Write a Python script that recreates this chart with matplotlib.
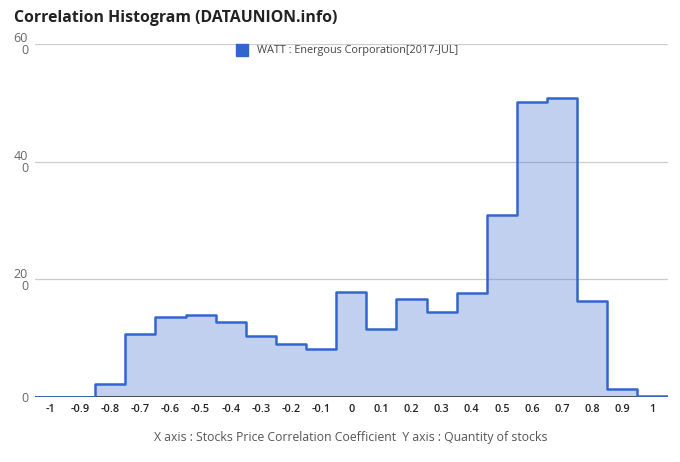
import numpy as np
import matplotlib
matplotlib.use("Agg")
import matplotlib.pyplot as plt

plt.rcParams['font.family'] = ['Open Sans', 'DejaVu Sans']

centers = [-1.0, -0.9, -0.8, -0.7, -0.6, -0.5, -0.4, -0.3, -0.2, -0.1, 0.0,
           0.1, 0.2, 0.3, 0.4, 0.5, 0.6, 0.7, 0.8, 0.9, 1.0]
counts = [0, 0, 2.26, 10.76, 13.6, 13.9, 12.7, 10.4, 9.06, 8.1, 17.8,
          11.5, 16.6, 14.4, 17.7, 30.9, 50.2, 50.9, 16.4, 1.36, 0.17]
xtick_labels = ['-1', '-0.9', '-0.8', '-0.7', '-0.6', '-0.5', '-0.4', '-0.3', '-0.2', '-0.1',
                '0', '0.1', '0.2', '0.3', '0.4', '0.5', '0.6', '0.7', '0.8', '0.9', '1']
ytick_values = [0, 20, 40, 60]
ytick_labels = ['0', '20\n0', '40\n0', '60\n0']
series_name = 'WATT : Energous Corporation[2017-JUL]'

blue = '#3366CC'

fig = plt.figure(figsize=(6.8, 4.62), dpi=100)
ax = fig.add_axes([35/680, 1-397/462, (667.5-35)/680, (397-44)/462])

c = np.array(centers)
half = (c[1] - c[0]) / 2
edges = np.append(c - half, c[-1] + half)

ax.stairs(counts, edges, fill=True, color=blue, alpha=0.3, linewidth=0, baseline=0)
ax.stairs(counts, edges, fill=False, color=blue, linewidth=1.8, baseline=None,
          joinstyle='round', zorder=3)

ax.set_xlim(edges[0], edges[-1])
ax.set_ylim(0, 60)

ax.set_yticks(ytick_values)
ax.set_yticklabels(ytick_labels, color='#666666', fontsize=9, linespacing=0.9)
ax.set_xticks(centers)
ax.set_xticklabels(xtick_labels, fontsize=7.8, color='#222222', fontweight='semibold')
ax.tick_params(axis='both', length=0)
ax.tick_params(axis='y', pad=5)
ax.tick_params(axis='x', pad=5)

for v in ytick_values[1:]:
    ax.axhline(v, color='#cccccc', linewidth=0.9, zorder=0)
ax.axhline(0, color='#333333', linewidth=1.2, zorder=2)

for s in ax.spines.values():
    s.set_visible(False)

fig.text(14/680, 1-18/462, 'Correlation Histogram (DATAUNION.info)', fontsize=11.4,
         fontweight='bold', color='#222222', va='center', ha='left')

# legend
fig.patches.append(plt.Rectangle((236/680, 1-56/462), 12/680, 12/462,
                                 transform=fig.transFigure, color=blue, figure=fig))
fig.text(257/680, 1-50/462, series_name, fontsize=7.8, color='#444444', va='center', ha='left')

fig.text(351/680, 1-437/462,
         'X axis : Stocks Price Correlation Coefficient  Y axis : Quantity of stocks',
         fontsize=8.8, color='#555555', ha='center', va='center')

fig.savefig('out.png', dpi=100)
